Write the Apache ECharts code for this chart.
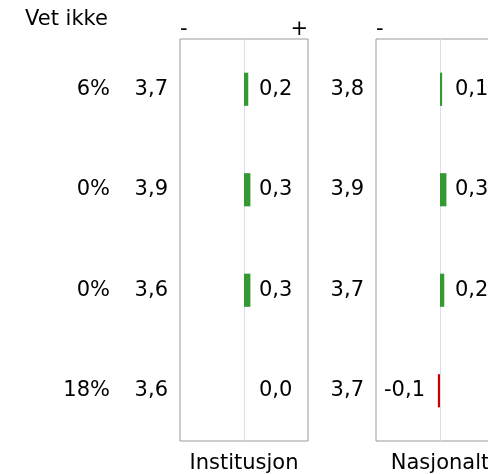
<!DOCTYPE html>
<html>
<head>
<meta charset="utf-8">
<script src="https://cdn.jsdelivr.net/npm/echarts@6/dist/echarts.min.js"></script>
<style>
  html, body { margin: 0; padding: 0; background: #fff; }
  #chart { width: 488px; height: 474px; }
</style>
</head>
<body>
<div id="chart"></div>
<script>
// rader (spørsmål) - navnene vises ikke i figuren
const rows = ['1', '2', '3', '4'];
const vetIkke = [6, 0, 0, 18];          // andel "vet ikke" i %
const instMean = [3.7, 3.9, 3.6, 3.6];  // snitt institusjon
const instDiff = [0.2, 0.3, 0.3, 0.0];  // differanse institusjon
const nasjMean = [3.8, 3.9, 3.7, 3.7];  // snitt nasjonalt
const nasjDiff = [0.1, 0.3, 0.2, -0.1]; // differanse nasjonalt
const panels = ['Institusjon', 'Nasjonalt'];

const FONT = 'DejaVu Sans';
const FS = 21;
const fmt = v => v.toFixed(1).replace('.', ',');

// panel 2 går utenfor høyre kant (klippes)
const gridLefts = [180, 376];

const buildGrid = left => ({
  left: left, top: 39, width: 128, height: 402,
  outerBoundsMode: 'none', containLabel: false,
  show: true, borderColor: '#999', borderWidth: 1, backgroundColor: '#fff'
});

const topAxis = i => ({
  type: 'value', gridIndex: i, position: 'top', min: -3, max: 3, interval: 3,
  axisLine: { show: false }, axisTick: { show: false },
  axisLabel: {
    margin: -1, color: '#000', fontFamily: FONT, fontSize: FS,
    alignMinLabel: 'left', alignMaxLabel: 'right',
    formatter: v => (v < 0 ? '-' : v > 0 ? '+' : '')
  },
  splitLine: { show: true, showMinLine: false, showMaxLine: false, lineStyle: { color: '#dcdcf0', width: 1 } }
});

const bottomAxis = i => ({
  type: 'value', gridIndex: i, position: 'bottom', min: -3, max: 3,
  axisLine: { show: false }, axisTick: { show: false }, axisLabel: { show: false },
  splitLine: { show: false },
  name: panels[i], nameLocation: 'middle', nameGap: 12,
  nameTextStyle: { color: '#000', fontFamily: FONT, fontSize: FS }
});

const catAxis = (grid, labels, margin, offset) => ({
  type: 'category', gridIndex: grid, data: rows, inverse: true, position: 'left', offset: offset || 0,
  axisLine: { show: false }, axisTick: { show: false },
  axisLabel: {
    margin: margin, color: '#000', fontFamily: FONT, fontSize: FS,
    formatter: (v, idx) => labels[idx]
  }
});

const barSeries = (i, diff) => ({
  type: 'bar', xAxisIndex: i * 2, yAxisIndex: i === 0 ? 0 : 2,
  barWidth: '33%',
  data: diff.map(d => ({ value: d, itemStyle: { color: d < 0 ? '#cc0000' : '#339933' } })),
  silent: true
});

// verdietiketter ved nullinjen
const labelSeries = (i, diff) => ({
  type: 'scatter', xAxisIndex: i * 2, yAxisIndex: i === 0 ? 0 : 2,
  symbolSize: 0, silent: true, z: 5,
  itemStyle: { opacity: 1 },
  data: diff.map((d, k) => ({
    value: [0, k],
    label: { position: d < 0 ? 'left' : 'right' }
  })),
  label: {
    show: true, distance: 15, color: '#000', fontFamily: FONT, fontSize: FS,
    formatter: p => fmt(diff[p.dataIndex])
  }
});

const chart = echarts.init(document.getElementById('chart'));
chart.setOption({
  animation: false,
  title: {
    text: 'Vet ikke', left: 25, top: 9, padding: 0,
    textStyle: { color: '#000', fontFamily: FONT, fontSize: FS, fontWeight: 'normal' }
  },
  grid: gridLefts.map(buildGrid),
  xAxis: [topAxis(0), bottomAxis(0), topAxis(1), bottomAxis(1)],
  yAxis: [
    catAxis(0, instMean.map(fmt), 12),
    catAxis(0, vetIkke.map(v => v + '%'), 12, 58),
    catAxis(1, nasjMean.map(fmt), 12)
  ],
  series: [
    barSeries(0, instDiff), labelSeries(0, instDiff),
    barSeries(1, nasjDiff), labelSeries(1, nasjDiff)
  ]
});
</script>
</body>
</html>
